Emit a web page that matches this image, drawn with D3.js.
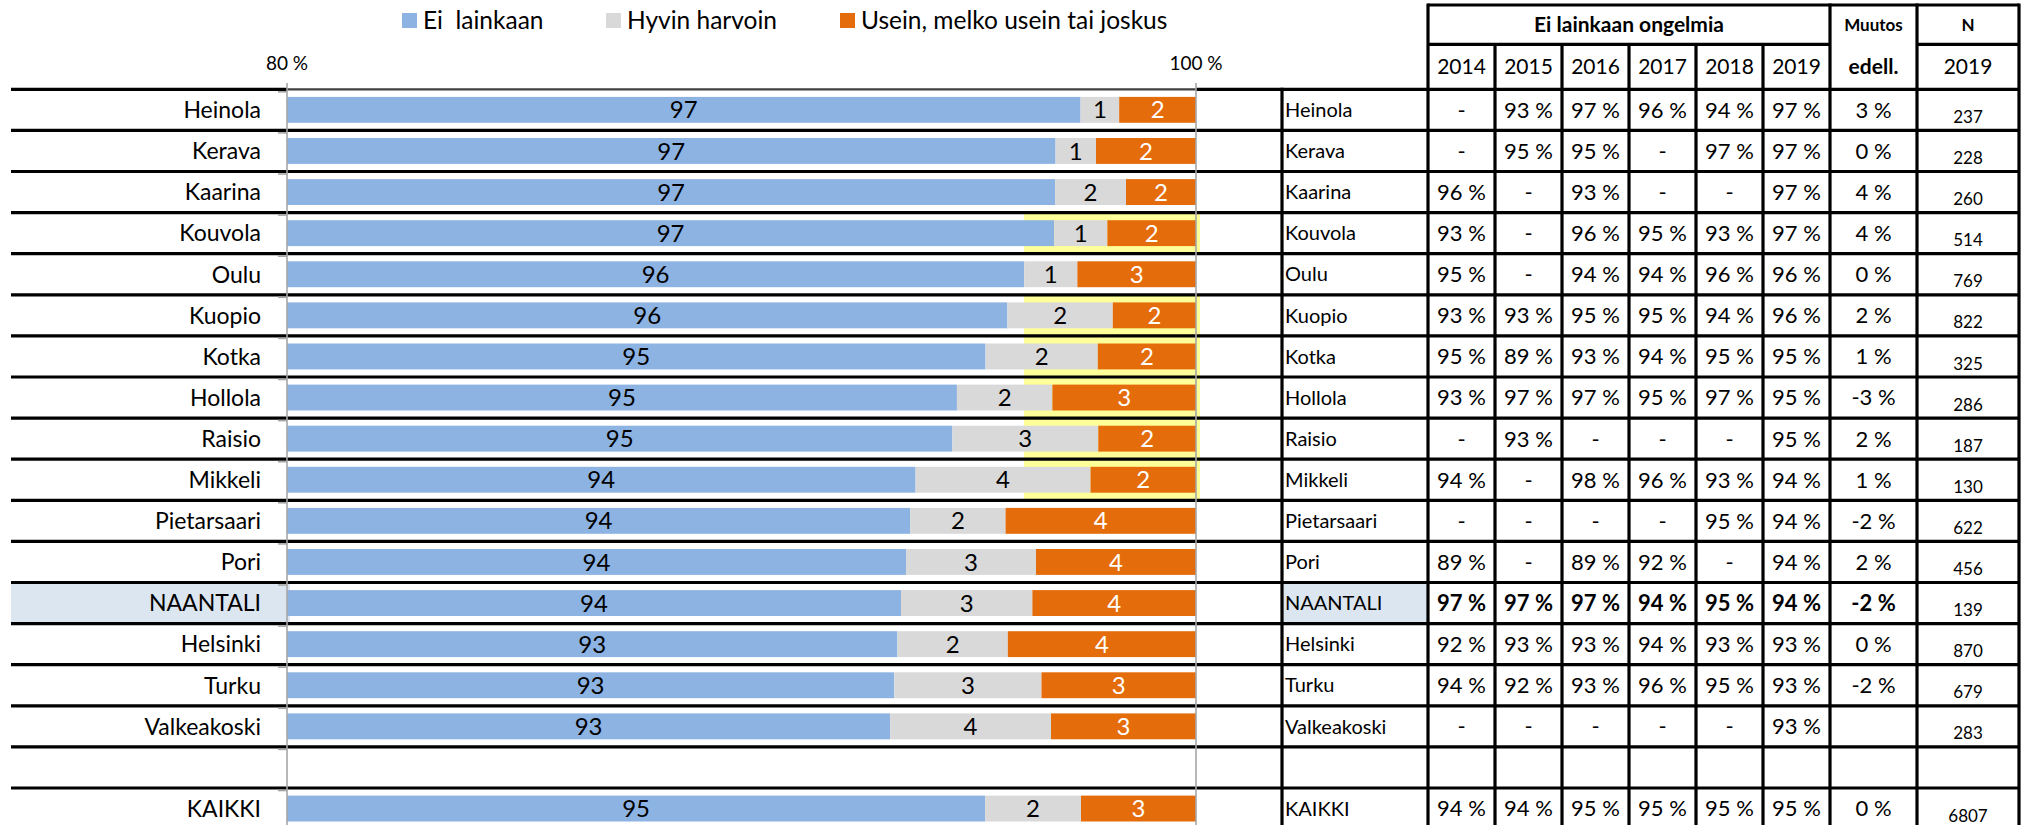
<!DOCTYPE html>
<html><head><meta charset="utf-8">
<script src="https://cdn.jsdelivr.net/npm/d3@7"></script>
<style>
body{margin:0;background:#fff;}
svg{display:block;font-family:Lato,"Open Sans",sans-serif;}
</style></head><body><svg id="c" width="2028" height="825"></svg>
<script>
// ---------- DATA ----------
const categories = ["Heinola","Kerava","Kaarina","Kouvola","Oulu","Kuopio","Kotka","Hollola","Raisio","Mikkeli","Pietarsaari","Pori","NAANTALI","Helsinki","Turku","Valkeakoski","KAIKKI"];
const seriesNames = ["Ei  lainkaan","Hyvin harvoin","Usein, melko usein tai joskus"];
const blueValues   = [97.46,96.91,96.90,96.88,96.22,95.85,95.37,94.74,94.64,93.83,93.71,93.62,93.51,93.43,93.36,93.27,95.36];
const grayValues   = [0.85,0.89,1.56,1.17,1.17,2.32,2.47,2.10,3.21,3.85,2.10,2.86,2.89,2.43,3.24,3.54,2.11];
const orangeValues = [1.69,2.20,1.54,1.95,2.61,1.83,2.16,3.16,2.15,2.32,4.19,3.52,3.60,4.14,3.40,3.19,2.53];
const blueLabels   = [97,97,97,97,96,96,95,95,95,94,94,94,94,93,93,93,95];
const grayLabels   = [1,1,2,1,1,2,2,2,3,4,2,3,3,2,3,4,2];
const orangeLabels = [2,2,2,2,3,2,2,3,2,2,4,4,4,4,3,3,3];
const xTicks = [80,100];
const years = ["2014","2015","2016","2017","2018","2019"];
const y2014 = [null,null,96,93,95,93,95,93,null,94,null,89,97,92,94,null,94];
const y2015 = [93,95,null,null,null,93,89,97,93,null,null,null,97,93,92,null,94];
const y2016 = [97,95,93,96,94,95,93,97,null,98,null,89,97,93,93,null,95];
const y2017 = [96,null,null,95,94,95,94,95,null,96,null,92,94,94,96,null,95];
const y2018 = [94,97,null,93,96,94,95,97,null,93,95,null,95,93,95,null,95];
const y2019 = [97,97,97,97,96,96,95,95,95,94,94,94,94,93,93,93,95];
const muutos = [3,0,4,4,0,2,1,-3,2,1,-2,2,-2,0,-2,"",0];
const nValues = [237,228,260,514,769,822,325,286,187,130,622,456,139,870,679,283,6807];
const highlightRows = ["Kouvola","Kuopio","Kotka","Hollola","Raisio","Mikkeli"];
const focusRow = "NAANTALI";
const tableTitle = "Ei lainkaan ongelmia";

// ---------- LAYOUT ----------
const colors = ["#8db3e2","#d9d9d9","#e46c0a"];
const labelColors = ["#000","#000","#fff"];
const svg = d3.select("#c");
const top0 = 89.3, pitch = 41.1;
const rowKeys = categories.slice(0,16).concat(["_blank"], categories.slice(16));
const row = d3.scaleBand().domain(rowKeys).range([top0, top0 + pitch*rowKeys.length]);
const band = d3.scaleBand().domain(rowKeys).range(row.range()).paddingInner(0.37).paddingOuter(0.185);
const x = d3.scaleLinear().domain([80,100]).range([287,1196]);
const yearX = d3.scaleBand().domain(years).range([1428,1830]);
const tblL = 1282, tblLab = 1428, muL = 1830, nL = 1917, tblR = 2019, hdrTop = 5, hdrMid = 44.3;

// background fills
svg.append("g").selectAll("rect").data(highlightRows).join("rect")
  .attr("x", 1024).attr("width", 1200-1024)
  .attr("y", d => row(d)).attr("height", row.bandwidth())
  .attr("fill", "#ffff99");
svg.append("rect").attr("x", 11).attr("width", 290-11)
  .attr("y", row(focusRow)).attr("height", row.bandwidth()).attr("fill", "#dce6f1");
svg.append("rect").attr("x", tblL).attr("width", tblLab-tblL)
  .attr("y", row(focusRow)).attr("height", row.bandwidth()).attr("fill", "#dce6f1");

// bars
const data = categories.map((c,i)=>({cat:c, blue:blueValues[i], gray:grayValues[i], orange:orangeValues[i], i}));
const keys = ["blue","gray","orange"];
const labelArrays = [blueLabels, grayLabels, orangeLabels];
const stack = d3.stack().keys(keys)(data);
svg.append("clipPath").attr("id","plotclip").append("rect")
  .attr("x", x(80)).attr("y", 0).attr("width", x(100)-x(80)).attr("height", 825);
const gBars = svg.append("g").attr("clip-path","url(#plotclip)");
stack.forEach((s,k)=>{
  gBars.append("g").selectAll("rect").data(s).join("rect")
    .attr("x", d => x(d[0])).attr("width", d => x(d[1]) - x(d[0]))
    .attr("y", d => band(d.data.cat)).attr("height", band.bandwidth())
    .attr("fill", colors[k]);
});
// bar labels
stack.forEach((s,k)=>{
  svg.append("g").selectAll("text").data(s).join("text")
    .attr("x", d => (Math.max(x(80), x(d[0])) + x(d[1]))/2)
    .attr("y", d => band(d.data.cat) + band.bandwidth()/2)
    .attr("dy","0.36em").attr("text-anchor","middle")
    .attr("font-size", 24).attr("fill", labelColors[k])
    .text(d => labelArrays[k][d.data.i]);
});

// black cell borders (rows)
const bounds = rowKeys.map(k => row(k)).concat([row.range()[1]]);
const gLines = svg.append("g").attr("stroke","#000").attr("stroke-width",3.2);
bounds.slice(1).forEach(b=>{
  gLines.append("line").attr("x1",11).attr("x2",tblR).attr("y1",b).attr("y2",b);
});
gLines.append("line").attr("x1",11).attr("x2",x(80)).attr("y1",top0).attr("y2",top0);
gLines.append("line").attr("x1",x(100)).attr("x2",tblR).attr("y1",top0).attr("y2",top0);
// header lines
gLines.append("line").attr("x1",tblLab).attr("x2",tblR).attr("y1",hdrTop).attr("y2",hdrTop);
gLines.append("line").attr("x1",tblLab).attr("x2",muL).attr("y1",hdrMid).attr("y2",hdrMid);
gLines.append("line").attr("x1",nL).attr("x2",tblR).attr("y1",hdrMid).attr("y2",hdrMid);
// verticals
[tblLab, muL, nL, tblR].forEach(v=>gLines.append("line").attr("x1",v).attr("x2",v).attr("y1",hdrTop-1.6).attr("y2",825));
gLines.append("line").attr("x1",tblL).attr("x2",tblL).attr("y1",top0-1.6).attr("y2",825);
years.slice(1).forEach(yv=>gLines.append("line").attr("x1",yearX(yv)).attr("x2",yearX(yv)).attr("y1",hdrMid).attr("y2",825));

// plot border top + axes
svg.append("line").attr("x1",x(80)).attr("x2",x(100)).attr("y1",top0).attr("y2",top0)
  .attr("stroke","#404040").attr("stroke-width",2.2);
svg.append("g").selectAll("line").data(xTicks).join("line")
  .attr("x1",d=>x(d)).attr("x2",d=>x(d)).attr("y1",83).attr("y2",825)
  .attr("stroke","#a6a6a6").attr("stroke-width",1.6);
// category tick marks
svg.append("g").selectAll("line").data(bounds).join("line")
  .attr("x1",x(80)-9).attr("x2",x(80)).attr("y1",d=>d+2.5).attr("y2",d=>d+2.5)
  .attr("stroke","#a6a6a6").attr("stroke-width",1.6);
// x tick labels
svg.append("g").selectAll("text").data(xTicks).join("text")
  .attr("x",d=>x(d)).attr("y",63).attr("dy","0.36em").attr("text-anchor","middle")
  .attr("font-size",19).attr("fill","#000").text(d=>d+"\u00a0%");

// category labels
svg.append("g").selectAll("text").data(categories).join("text")
  .attr("x",261).attr("y",d=>row(d)+row.bandwidth()/2).attr("dy","0.36em")
  .attr("text-anchor","end").attr("font-size",23).attr("fill","#000").text(d=>d);

// legend
const lx = [402, 606, 840];
const gl = svg.append("g");
seriesNames.forEach((n,i)=>{
  gl.append("rect").attr("x",lx[i]).attr("y",13).attr("width",15).attr("height",15).attr("fill",colors[i]);
  gl.append("text").attr("x",lx[i]+21).attr("y",20.5).attr("dy","0.36em")
    .attr("font-size",24.5).style("white-space","pre").attr("fill","#000").text(n);
});

// table header
const gh = svg.append("g").attr("fill","#000").attr("text-anchor","middle");
gh.append("text").attr("x",(tblLab+muL)/2).attr("y",(hdrTop+hdrMid)/2).attr("dy","0.36em")
  .attr("font-size",21).attr("font-weight","bold").text(tableTitle);
gh.append("text").attr("x",(muL+nL)/2).attr("y",(hdrTop+hdrMid)/2).attr("dy","0.36em")
  .attr("font-size",17).attr("font-weight","bold").text("Muutos");
gh.append("text").attr("x",(muL+nL)/2).attr("y",(hdrMid+top0)/2).attr("dy","0.36em")
  .attr("font-size",21).attr("font-weight","bold").text("edell.");
gh.append("text").attr("x",(nL+tblR)/2).attr("y",(hdrTop+hdrMid)/2).attr("dy","0.36em")
  .attr("font-size",17).attr("font-weight","bold").text("N");
gh.append("text").attr("x",(nL+tblR)/2).attr("y",(hdrMid+top0)/2).attr("dy","0.36em")
  .attr("font-size",21).text("2019");
gh.selectAll("text.yr").data(years).join("text").attr("class","yr")
  .attr("x",d=>yearX(d)+yearX.bandwidth()/2).attr("y",(hdrMid+top0)/2).attr("dy","0.36em")
  .attr("font-size",21).text(d=>d);

// table body
const yearArrays = [y2014,y2015,y2016,y2017,y2018,y2019];
const gt = svg.append("g").attr("fill","#000");
const cy = c => row(c)+row.bandwidth()/2;
gt.selectAll("text.lab").data(categories).join("text").attr("class","lab")
  .attr("x",tblL+3).attr("y",cy).attr("dy","0.36em").attr("font-size",20).text(d=>d);
years.forEach((yv,j)=>{
  gt.append("g").selectAll("text").data(categories).join("text")
    .attr("x",yearX(yv)+yearX.bandwidth()/2).attr("y",cy).attr("dy","0.36em")
    .attr("text-anchor","middle").attr("font-size",22)
    .attr("font-weight",d=>d===focusRow?"bold":"normal")
    .text((d,i)=>yearArrays[j][i]==null?"-":yearArrays[j][i]+"\u00a0%");
});
gt.append("g").selectAll("text").data(categories).join("text")
  .attr("x",(muL+nL)/2).attr("y",cy).attr("dy","0.36em")
  .attr("text-anchor","middle").attr("font-size",22)
  .attr("font-weight",d=>d===focusRow?"bold":"normal")
  .text((d,i)=>muutos[i]===""?"":muutos[i]+"\u00a0%");
gt.append("g").selectAll("text").data(categories).join("text")
  .attr("x",(nL+tblR)/2).attr("y",d=>cy(d)+7).attr("dy","0.36em")
  .attr("text-anchor","middle").attr("font-size",17)
  .text((d,i)=>nValues[i]);
</script></body></html>
